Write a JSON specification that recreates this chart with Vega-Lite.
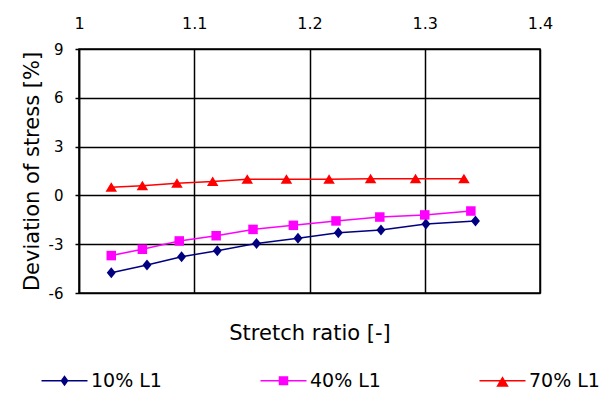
{
  "$schema": "https://vega.github.io/schema/vega-lite/v6.json",
  "width": 461,
  "height": 244,
  "autosize": {"type": "none"},
  "padding": {"left": 79, "top": 49, "right": 62, "bottom": 101},
  "background": "white",
  "config": {
    "font": "DejaVu Sans",
    "view": {"stroke": "black", "strokeWidth": 1.5},
    "axis": {
      "labelColor": "black",
      "titleColor": "black",
      "titleFontWeight": "normal",
      "gridColor": "black",
      "gridOpacity": 1,
      "domainColor": "black",
      "tickColor": "black",
      "labelFont": "DejaVu Sans",
      "titleFont": "DejaVu Sans",
      "labelFlush": false,
      "labelOverlap": false
    }
  },
  "data": {
    "values": [
      {"series": "10% L1", "x": 1.028, "y": -4.75},
      {"series": "10% L1", "x": 1.059, "y": -4.28},
      {"series": "10% L1", "x": 1.089, "y": -3.77},
      {"series": "10% L1", "x": 1.12, "y": -3.4},
      {"series": "10% L1", "x": 1.154, "y": -2.95},
      {"series": "10% L1", "x": 1.19, "y": -2.64},
      {"series": "10% L1", "x": 1.225, "y": -2.29},
      {"series": "10% L1", "x": 1.262, "y": -2.13},
      {"series": "10% L1", "x": 1.301, "y": -1.76},
      {"series": "10% L1", "x": 1.344, "y": -1.57},
      {"series": "40% L1", "x": 1.028, "y": -3.7},
      {"series": "40% L1", "x": 1.055, "y": -3.31},
      {"series": "40% L1", "x": 1.087, "y": -2.8},
      {"series": "40% L1", "x": 1.119, "y": -2.48},
      {"series": "40% L1", "x": 1.151, "y": -2.09},
      {"series": "40% L1", "x": 1.186, "y": -1.84},
      {"series": "40% L1", "x": 1.223, "y": -1.57},
      {"series": "40% L1", "x": 1.261, "y": -1.33},
      {"series": "40% L1", "x": 1.3, "y": -1.2},
      {"series": "40% L1", "x": 1.34, "y": -0.96},
      {"series": "70% L1", "x": 1.028, "y": 0.5},
      {"series": "70% L1", "x": 1.055, "y": 0.6},
      {"series": "70% L1", "x": 1.085, "y": 0.75},
      {"series": "70% L1", "x": 1.116, "y": 0.85},
      {"series": "70% L1", "x": 1.146, "y": 1.0},
      {"series": "70% L1", "x": 1.18, "y": 1.0},
      {"series": "70% L1", "x": 1.217, "y": 1.0},
      {"series": "70% L1", "x": 1.253, "y": 1.02},
      {"series": "70% L1", "x": 1.292, "y": 1.03},
      {"series": "70% L1", "x": 1.334, "y": 1.03}
    ]
  },
  "encoding": {
    "y": {
      "field": "y",
      "type": "quantitative",
      "scale": {"domain": [-6, 9], "nice": false, "zero": false},
      "axis": {
        "values": [-6, -3, 0, 3, 6, 9],
        "title": "Deviation of stress [%]",
        "titleFontSize": 21,
        "labelFontSize": 15,
        "labelExpr": "'' + datum.value",
        "tickSize": 4,
        "labelPadding": 12,
        "grid": true,
        "gridWidth": 1.5,
        "domainWidth": 1.5,
        "tickWidth": 1.5,
        "titlePadding": 6
      }
    }
  },
  "layer": [
    {
      "transform": [{"filter": "datum.series == '10% L1'"}],
      "mark": {
        "type": "line",
        "color": "#000080",
        "strokeWidth": 1.5,
        "point": {"shape": "M0,-1.1L0.9,0L0,1.1L-0.9,0Z", "size": 100, "filled": true, "color": "#000080", "opacity": 1}
      },
      "encoding": {
        "x": {
          "field": "x",
          "type": "quantitative",
          "scale": {"domain": [1, 1.4], "nice": false, "zero": false},
          "axis": {
            "orient": "top",
            "values": [1, 1.1, 1.2, 1.3, 1.4],
            "labelExpr": "'' + datum.value",
            "labelFontSize": 16,
            "ticks": false,
            "tickSize": 0,
            "labelPadding": 18,
            "domain": false,
            "grid": true,
            "gridWidth": 1.5,
            "title": null
          }
        }
      }
    },
    {
      "transform": [{"filter": "datum.series == '40% L1'"}],
      "mark": {
        "type": "line",
        "color": "#FF00FF",
        "strokeWidth": 1.5,
        "point": {"shape": "M-0.95,-0.95H0.95V0.95H-0.95Z", "size": 100, "filled": true, "color": "#FF00FF", "opacity": 1}
      },
      "encoding": {
        "x": {"field": "x", "type": "quantitative", "axis": null}
      }
    },
    {
      "transform": [{"filter": "datum.series == '70% L1'"}],
      "mark": {
        "type": "line",
        "color": "#FF0000",
        "strokeWidth": 1.5,
        "point": {"shape": "M0,-1L1.15,0.9H-1.15Z", "size": 100, "filled": true, "color": "#FF0000", "opacity": 1}
      },
      "encoding": {
        "x": {"field": "x", "type": "quantitative", "axis": null}
      }
    },
    {
      "transform": [{"filter": "datum.x < 0"}],
      "mark": {"type": "point", "filled": true, "opacity": 1, "size": 100, "strokeWidth": 0},
      "encoding": {
        "x": {
          "field": "x",
          "type": "quantitative",
          "axis": {
            "orient": "bottom",
            "labels": false,
            "ticks": false,
            "domain": false,
            "grid": false,
            "title": "Stretch ratio [-]",
            "titleFontSize": 21,
            "titlePadding": 29
          }
        },
        "color": {
          "field": "series",
          "type": "nominal",
          "scale": {"domain": ["10% L1", "40% L1", "70% L1"], "range": ["#000080", "#FF00FF", "#FF0000"]},
          "legend": {
            "title": null,
            "orient": "none",
            "legendX": -37,
            "legendY": 322,
            "direction": "horizontal",
            "columnPadding": 98,
            "labelFontSize": 19,
            "labelFont": "DejaVu Sans",
            "labelColor": "black",
            "symbolSize": 100,
            "symbolOffset": 13,
            "labelOffset": 17,
            "symbolStrokeWidth": 0,
            "symbolOpacity": 1,
            "padding": 0
          }
        },
        "shape": {
          "field": "series",
          "type": "nominal",
          "scale": {
            "domain": ["10% L1", "40% L1", "70% L1"],
            "range": [
              "M-4.6,-0.15H4.6V0.15H-4.6Z M0,-1.1L0.8,0L0,1.1L-0.8,0Z",
              "M-4.6,-0.15H4.6V0.15H-4.6Z M-0.95,-0.9H0.95V0.9H-0.95Z",
              "M-4.6,-0.15H4.6V0.15H-4.6Z M0,-0.9L1.25,1.2H-1.25Z"
            ]
          }
        }
      }
    }
  ],
  "resolve": {"axis": {"x": "independent"}}
}
